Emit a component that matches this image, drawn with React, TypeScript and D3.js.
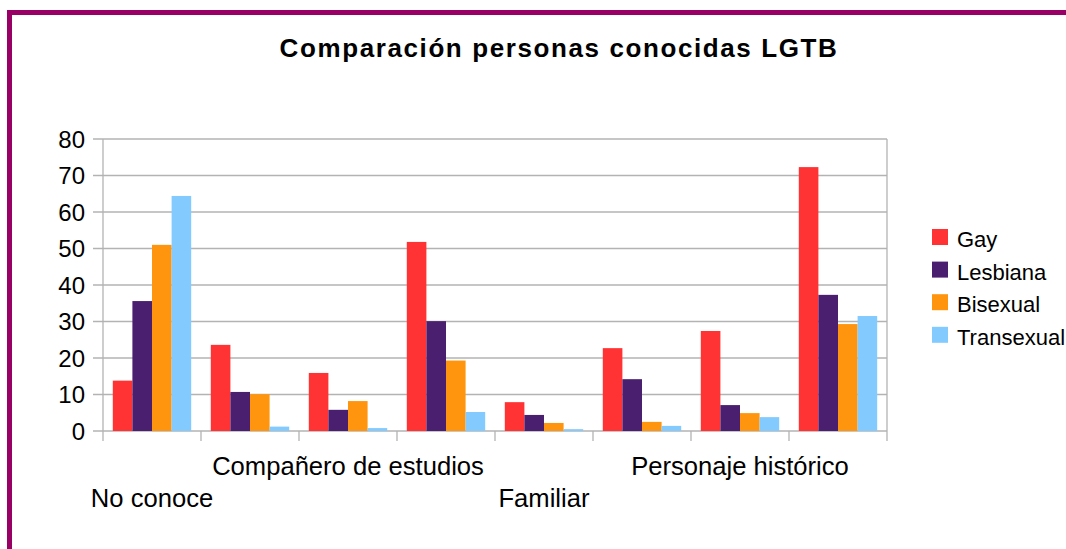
import { useEffect, useRef } from 'react';
import * as d3 from 'd3';

// Only every other category label is visible in the original chart
const categories = [
  'No conoce',
  '',
  'Compañero de estudios',
  '',
  'Familiar',
  '',
  'Personaje histórico',
  '',
];
const seriesNames = ['Gay', 'Lesbiana', 'Bisexual', 'Transexual'];
const gay = [13.8, 23.6, 15.9, 51.8, 7.9, 22.7, 27.4, 72.3];
const lesbiana = [35.6, 10.7, 5.8, 30.1, 4.4, 14.2, 7.1, 37.3];
const bisexual = [51.0, 10.1, 8.2, 19.3, 2.2, 2.5, 4.9, 29.3];
const transexual = [64.4, 1.2, 0.8, 5.2, 0.5, 1.4, 3.8, 31.5];
const yTicks = [0, 10, 20, 30, 40, 50, 60, 70, 80];

const colors = ['#ff3333', '#4b1f6f', '#ff950e', '#83caff'];
const FONT = '"Liberation Sans", Arial, sans-serif';

export default function App() {
  const svgRef = useRef<SVGSVGElement>(null);
  const width = 1066;
  const height = 549;

  useEffect(() => {
    if (!svgRef.current) return;
    const svg = d3.select(svgRef.current);
    svg.selectAll('*').remove();

    const series = [gay, lesbiana, bisexual, transexual];
    const plot = { left: 103, right: 887, top: 139, bottom: 431 };

    // frame
    svg.append('rect').attr('width', width).attr('height', height).attr('fill', '#fff');
    svg.append('rect').attr('x', 7).attr('y', 10).attr('width', width - 7).attr('height', 5).attr('fill', '#990066');
    svg.append('rect').attr('x', 7).attr('y', 10).attr('width', 5).attr('height', height - 10).attr('fill', '#990066');

    const x = d3
      .scaleBand<number>()
      .domain(d3.range(categories.length))
      .range([plot.left, plot.right])
      .paddingInner(0)
      .paddingOuter(0);
    const x1 = d3
      .scaleBand<number>()
      .domain(d3.range(seriesNames.length))
      .range([0, x.bandwidth()])
      .paddingOuter(0.5)
      .paddingInner(0);
    const y = d3.scaleLinear().domain([0, 80]).range([plot.bottom, plot.top]);

    const grid = '#b3b3b3';

    // horizontal grid + y ticks
    yTicks.forEach((t) => {
      svg.append('line')
        .attr('x1', plot.left - 10)
        .attr('x2', plot.right)
        .attr('y1', y(t))
        .attr('y2', y(t))
        .attr('stroke', grid)
        .attr('stroke-width', 1.3);
      svg.append('text')
        .attr('x', 85)
        .attr('y', y(t))
        .attr('dy', '0.36em')
        .attr('text-anchor', 'end')
        .attr('font-family', FONT)
        .attr('font-size', '24px')
        .attr('fill', '#000')
        .text(t);
    });

    // vertical axis + right border
    svg.append('line')
      .attr('x1', plot.left).attr('x2', plot.left)
      .attr('y1', plot.top).attr('y2', plot.bottom + 10)
      .attr('stroke', grid).attr('stroke-width', 1.3);
    svg.append('line')
      .attr('x1', plot.right).attr('x2', plot.right)
      .attr('y1', plot.top).attr('y2', plot.bottom + 10)
      .attr('stroke', grid).attr('stroke-width', 1.3);

    // category boundary ticks
    d3.range(1, categories.length).forEach((i) => {
      const xp = x(i) ?? 0;
      svg.append('line')
        .attr('x1', xp).attr('x2', xp)
        .attr('y1', plot.bottom).attr('y2', plot.bottom + 10)
        .attr('stroke', grid).attr('stroke-width', 1.3);
    });

    // bars
    categories.forEach((_, ci) => {
      series.forEach((vals, si) => {
        const v = vals[ci];
        svg.append('rect')
          .attr('x', (x(ci) ?? 0) + (x1(si) ?? 0))
          .attr('y', y(v))
          .attr('width', x1.bandwidth())
          .attr('height', y(0) - y(v))
          .attr('fill', colors[si]);
      });
    });

    // category labels (staggered)
    let shown = 0;
    categories.forEach((c, ci) => {
      if (!c) return;
      const row = shown % 2 === 0 ? 1 : 0;
      shown++;
      svg.append('text')
        .attr('x', (x(ci) ?? 0) + x.bandwidth() / 2)
        .attr('y', row === 0 ? 475 : 507)
        .attr('text-anchor', 'middle')
        .attr('font-family', FONT)
        .attr('font-size', '25.6px')
        .attr('fill', '#000')
        .text(c);
    });

    // title
    svg.append('text')
      .attr('x', 559)
      .attr('y', 57)
      .attr('text-anchor', 'middle')
      .attr('font-family', FONT)
      .attr('font-size', '26px')
      .attr('font-weight', 'bold')
      .attr('letter-spacing', '1.6px')
      .attr('fill', '#000')
      .text('Comparación personas conocidas LGTB');

    // legend
    seriesNames.forEach((name, i) => {
      const ly = 229 + i * 32.6;
      svg.append('rect')
        .attr('x', 932).attr('y', ly)
        .attr('width', 16).attr('height', 16)
        .attr('fill', colors[i]);
      svg.append('text')
        .attr('x', 957)
        .attr('y', ly + 18)
        .attr('font-family', FONT)
        .attr('font-size', '22px')
        .attr('fill', '#000')
        .text(name);
    });
  }, []);

  return (
    <svg
      ref={svgRef}
      width={width}
      height={height}
      style={{ position: 'absolute', left: 0, top: 0, display: 'block' }}
    />
  );
}
